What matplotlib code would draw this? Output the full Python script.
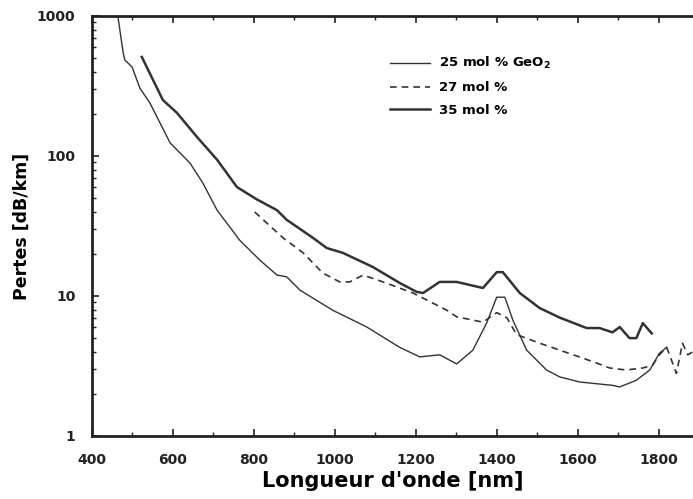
import matplotlib.pyplot as plt
from matplotlib.ticker import MultipleLocator, LogLocator, NullFormatter

# 25 mol % GeO2 (trait fin)
lam_25 = [464, 477, 481, 499, 518, 543, 593, 642, 674, 709, 765, 815, 857, 881, 914, 995,
          1079, 1160, 1210, 1259, 1301, 1341, 1375, 1400, 1420, 1440, 1474, 1523, 1556,
          1605, 1686, 1704, 1745, 1778, 1802, 1820]
pertes_25 = [990, 544, 485, 432, 306, 239, 124, 89, 64, 41, 25, 18, 14.1, 13.7, 11, 7.9,
             6.0, 4.3, 3.67, 3.8, 3.27, 4.1, 6.4, 9.8, 9.8, 6.7, 4.1, 2.96, 2.64,
             2.43, 2.3, 2.24, 2.5, 2.96, 3.9, 4.3]

# 27 mol %
lam_27 = [802, 872, 922, 970, 1012, 1037, 1070, 1119, 1193, 1277, 1301, 1366, 1400, 1425,
          1449, 1506, 1556, 1637, 1679, 1720, 1761, 1785, 1802, 1820, 1844, 1859, 1872, 1885]
pertes_27 = [39.8, 26, 20.3, 14.6, 12.6, 12.6, 14.1, 12.6, 10.5, 7.9, 7.1, 6.5, 7.6, 7.0,
             5.3, 4.6, 4.1, 3.4, 3.06, 2.96, 3.06, 3.2, 3.8, 4.3, 2.8, 4.6, 3.8, 4.0]

# 35 mol %
lam_35 = [523, 575, 610, 659, 709, 758, 807, 857, 881, 946, 980, 1020, 1094, 1160, 1202,
          1218, 1259, 1301, 1366, 1400, 1415, 1457, 1506, 1556, 1622, 1654, 1686, 1704,
          1728, 1745, 1761, 1783]
pertes_35 = [510, 251, 203, 137, 94, 60, 49, 41, 35, 26, 22, 20.3, 16.1, 12.4, 10.7,
             10.5, 12.6, 12.6, 11.4, 14.8, 14.8, 10.5, 8.2, 7.0, 5.9, 5.9, 5.5, 6.0,
             5.0, 5.0, 6.4, 5.4]

plt.rcParams['font.family'] = ['DejaVu Sans']
plt.rcParams['font.weight'] = 'bold'

fig = plt.figure(figsize=(6.93, 4.99), dpi=100)
ax = fig.add_axes([0.1328, 0.1263, 0.8672, 0.8417])

couleur = '#333333'
ax.plot(lam_25, pertes_25, '-', color=couleur, linewidth=1.0, label='25 mol % GeO$_\\mathbf{2}$')
ax.plot(lam_27, pertes_27, '--', color=couleur, linewidth=1.2, dashes=(4, 3), label='27 mol %')
ax.plot(lam_35, pertes_35, '-', color=couleur, linewidth=1.8, label='35 mol %')

ax.set_yscale('log')
ax.set_xlim(400, 1885)
ax.set_ylim(1, 1000)

ax.xaxis.set_major_locator(MultipleLocator(200))
ax.xaxis.set_minor_locator(MultipleLocator(100))
ax.yaxis.set_minor_locator(LogLocator(base=10, subs=range(2, 10)))
ax.yaxis.set_minor_formatter(NullFormatter())
ax.set_yticks([1, 10, 100, 1000])
ax.set_yticklabels(['1', '10', '100', '1000'])

ax.tick_params(which='both', direction='in', top=True, right=False, labelsize=10,
               colors='#222222', pad=12)
ax.tick_params(which='major', length=5, width=1.2)
ax.tick_params(which='minor', length=3, width=1)
for lab in ax.get_xticklabels() + ax.get_yticklabels():
    lab.set_fontweight('bold')

for s in ['left', 'bottom', 'top']:
    ax.spines[s].set_linewidth(2)
    ax.spines[s].set_color('#222222')
ax.spines['right'].set_visible(False)

ax.set_xlabel("Longueur d'onde [nm]", fontsize=15, fontweight='bold', labelpad=3)
ax.set_ylabel('Pertes [dB/km]', fontsize=12.5, fontweight='bold', labelpad=4)

leg = ax.legend(loc='upper left', bbox_to_anchor=(0.476, 0.935), frameon=False,
                fontsize=9.5, handlelength=3.0, handletextpad=0.7, labelspacing=0.75)
for t in leg.get_texts():
    t.set_fontweight('bold')

fig.savefig('out.png', dpi=100)
